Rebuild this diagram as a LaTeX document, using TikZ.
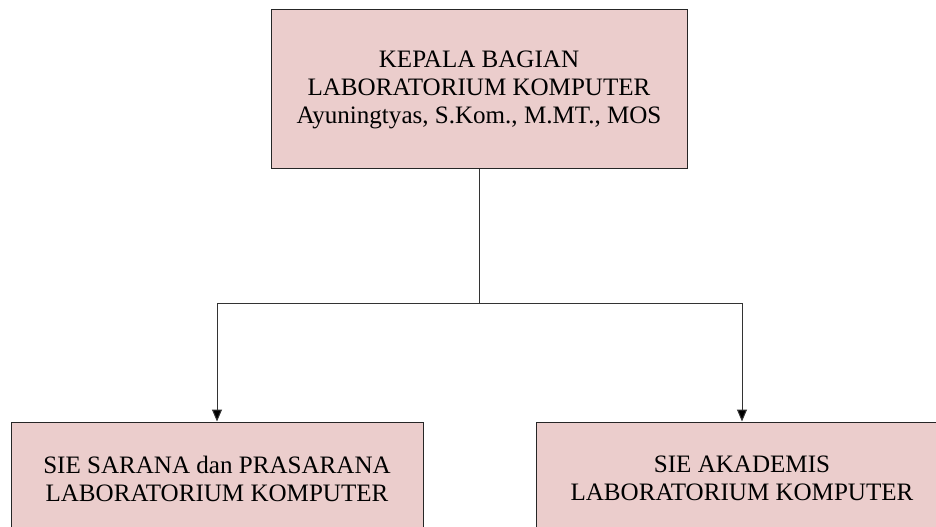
\documentclass[tikz,border=0pt]{standalone}
\usepackage{fontspec}
\setmainfont{Liberation Serif}
\usetikzlibrary{arrows.meta}
\usetikzlibrary{positioning}
\definecolor{boxpink}{RGB}{235,205,204}
\tikzset{unit/.style = {draw=black!85, fill=boxpink, line width=0.75pt,
                        align=center, inner sep=0,
                        font=\fontsize{18.8}{21}\selectfont}}
\tikzset{link/.style = {draw=black!80, line width=0.75pt}}
\tikzset{tip/.style = {-{Triangle[length=9pt, width=7.5pt, fill=black]}}}

\begin{document}
\begin{tikzpicture}[x=0.75pt, y=0.75pt]
    \useasboundingbox (0, 0) rectangle (936, 526);

    \node [unit, minimum width=312pt, minimum height=119.25pt] (kabag) at (479, 436.5)
        {KEPALA BAGIAN\\LABORATORIUM KOMPUTER\\Ayuningtyas, S.Kom., M.MT., MOS};
    \node [unit, minimum width=309pt, minimum height=84.75pt] (sarana) at (217, 47.5)
        {SIE SARANA dan PRASARANA\\LABORATORIUM KOMPUTER};
    \node [unit, minimum width=309pt, minimum height=84.75pt] (akademis) at (742, 47.5)
        {SIE AKADEMIS\\LABORATORIUM KOMPUTER};

    \coordinate (split) at (479, 223);
    \draw [link] (kabag.south) -- (split);
    \draw [link, tip] (split) -| (sarana.north);
    \draw [link, tip] (split) -| (akademis.north);
\end{tikzpicture}
\end{document}
